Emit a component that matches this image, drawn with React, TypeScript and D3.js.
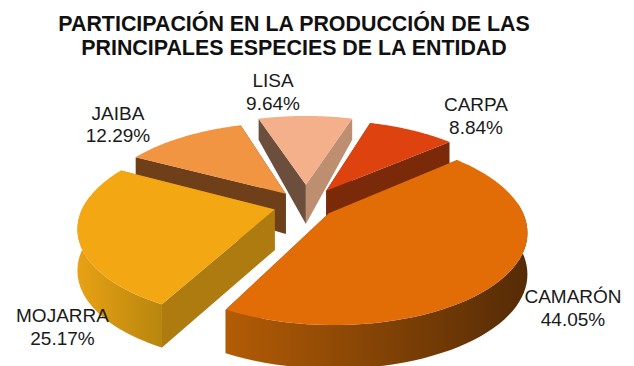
import React from "react";
import * as d3 from "d3";

const titleLines = ["PARTICIPACIÓN EN LA PRODUCCIÓN DE LAS", "PRINCIPALES ESPECIES DE LA ENTIDAD"];
const categories = ["CAMARÓN", "MOJARRA", "JAIBA", "LISA", "CARPA"];
const values = [44.05, 25.17, 12.29, 9.64, 8.84];
const valueLabels = ["44.05%", "25.17%", "12.29%", "9.64%", "8.84%"];
const explode = [0.15, 0.17, 0.17, 0.24, 0.2];
const topColors = ["#e26c05", "#f3a712", "#f29543", "#f4b08a", "#de420f"];
const cutColors = ["#8a4604", "#ae7b10", "#6e3f18", "#bd8e70", "#7a2a08"];
const startCutColors = ["#8a4604", "#ae7b10", "#6e3f18", "#6b4f3c", "#7a2a08"];
const wallLeft = ["#b35c05", "#e8a114", "#6e3f18", "#bd8e70", "#7a2a08"];
const wallRight = ["#552b06", "#b8860f", "#6e3f18", "#bd8e70", "#7a2a08"];
const labelX = [573, 62.5, 118, 273, 476];
const labelY = [303, 322, 119.5, 87, 111];
const drawOrder = [3, 2, 4, 1, 0];

const W = 634, H = 366;
const cx = 306, cy = 205, R = 191, squash = 88, focal = 5.5;
const depth = d3.scaleLinear().domain([-1.25, -0.2, 1.2]).range([20, 40, 44]).clamp(true);
const persp = (Y: number) => 1 / (1 - Y / focal);

function project(X: number, Y: number, down: boolean): [number, number] {
  const s = persp(Y);
  return [cx + R * X * s, cy + squash * Y * s + (down ? depth(Y) : 0)];
}

const arcs = d3.pie<number>().sort(null).startAngle((49 * Math.PI) / 180).endAngle((409 * Math.PI) / 180)(values);
const line = d3.line();

export default function App() {
  return (
    <svg width={W} height={H} style={{ position: "absolute", left: 0, top: 0, background: "#fff" }} fontFamily="'Liberation Sans', Arial, sans-serif">
      <defs>
        {categories.map((_, i) => (
          <linearGradient key={i} id={`wall${i}`} x1="0" x2="1" y1="0" y2="0">
            <stop offset="0" stopColor={wallLeft[i]} />
            <stop offset="1" stopColor={wallRight[i]} />
          </linearGradient>
        ))}
      </defs>
      {titleLines.map((t, i) => (
        <text key={t} x={294} y={30.5 + i * 24} textAnchor="middle" fontSize={21.4} fontWeight="bold" fill="#111">{t}</text>
      ))}
      {drawOrder.map((i) => {
        const a = arcs[i];
        const mid = (a.startAngle + a.endAngle) / 2;
        const ox = explode[i] * Math.sin(mid), oy = -explode[i] * Math.cos(mid);
        const steps = d3.range(0, 61).map((k) => a.startAngle + ((a.endAngle - a.startAngle) * k) / 60);
        const rimAt = (t: number) => [ox + Math.sin(t), oy - Math.cos(t)] as [number, number];
        const top = steps.map((t) => project(...rimAt(t), false));
        const startB = project(...rimAt(steps[0]), true);
        const endB = project(...rimAt(steps[60]), true);
        const front = steps.filter((t) => Math.cos(t) < 0.15);
        const frontTop = front.map((t) => project(...rimAt(t), false));
        const frontBottom = front.map((t) => project(...rimAt(t), true));
        const apexT = project(ox, oy, false), apexB = project(ox, oy, true);
        return (
          <g key={i}>
            <path d={line([apexT, top[0], startB, apexB])! + "Z"} fill={startCutColors[i]} />
            <path d={line([apexT, top[60], endB, apexB])! + "Z"} fill={cutColors[i]} />
            {front.length > 1 && <path d={line([...frontTop, ...frontBottom.slice().reverse()])! + "Z"} fill={`url(#wall${i})`} />}
            <path d={line([apexT, ...top])! + "Z"} fill={topColors[i]} />
          </g>
        );
      })}
      {categories.map((c, i) => (
        <text key={c} textAnchor="middle" fontSize={19} fill="#1a1a1a">
          <tspan x={labelX[i]} y={labelY[i]}>{c}</tspan>
          <tspan x={labelX[i]} y={labelY[i] + 22.5}>{valueLabels[i]}</tspan>
        </text>
      ))}
    </svg>
  );
}
